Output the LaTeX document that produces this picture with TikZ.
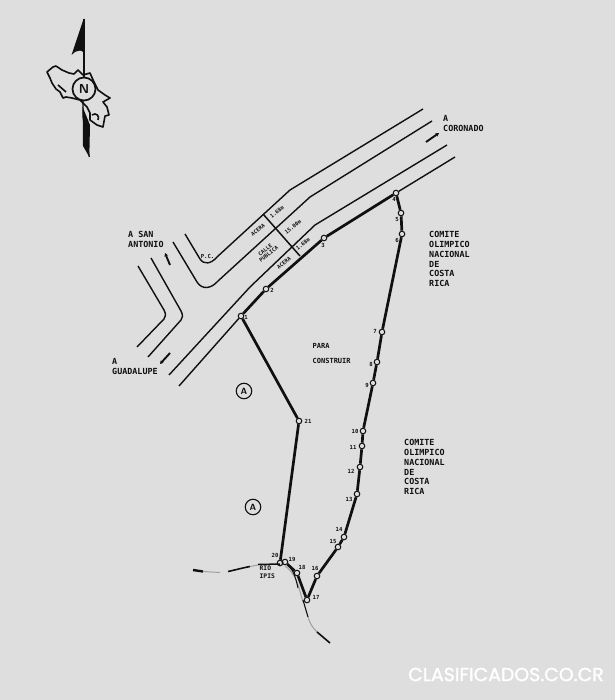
\documentclass[tikz,border=0pt]{standalone}
\usepackage{fontspec}
\setmonofont{DejaVu Sans Mono}
\newfontfamily\wmfont{Poppins}[FakeBold=1.4]
\definecolor{bgc}{HTML}{DEDEDE}
\definecolor{ink}{HTML}{101010}
\usetikzlibrary{arrows.meta}
\tikzset{
  road/.style={draw=ink,line width=1.4pt},
  limit/.style={draw=ink,line width=2.7pt},
  pt/.style={circle,draw=ink,line width=1pt,fill=bgc,inner sep=0pt,minimum size=5.6pt},
  txt/.style={font=\ttfamily\bfseries\fontsize{8.4}{9.7}\selectfont,text=ink,align=left,anchor=north west,inner sep=0pt},
  small/.style={font=\ttfamily\bfseries\fontsize{7}{8}\selectfont,text=ink,align=left,anchor=north west,inner sep=0pt},
  num/.style={font=\ttfamily\bfseries\fontsize{5.6}{6}\selectfont,text=ink,inner sep=0pt},
  sec/.style={font=\ttfamily\bfseries\fontsize{5.3}{5.6}\selectfont,text=ink,inner sep=0pt,align=center,rotate=38},
  dirarrow/.style={draw=ink,line width=1.9pt,-{Stealth[length=3.5pt,width=3.8pt]}},
  river/.style={draw=ink,line width=1.2pt},
  fade/.style={draw=ink!40,line width=1pt},
  boxa/.style={circle,draw=ink,line width=1.1pt,minimum size=15.5pt,inner sep=0pt,font=\sffamily\bfseries\fontsize{9}{9}\selectfont,text=ink},
}
\begin{document}
\begin{tikzpicture}[x=1pt,y=-1pt]
\path[use as bounding box,fill=bgc] (0,0) rectangle (615,700);

% north arrow
\fill[ink] (83.5,19) -- (71.5,55) -- (75,52) -- (78,51) .. controls (81,50) and (83,51) .. (84,54) -- (84.5,19) -- cycle;
\draw[ink,line width=1.2pt] (84,19) -- (84,78);
\draw[ink,line width=1.2pt] (83,100) -- (83,117) -- (89.3,157);
\fill[ink] (82.7,107) -- (90,125) -- (89.3,157) -- (83,146) -- cycle;
\draw[ink,line width=1.6pt,line join=round]
 (47,72) -- (53,67) -- (56,66) -- (62,70) -- (69,73) -- (74,74) -- (78,70) -- (83,75) -- (90,73) -- (94,82) -- (98,90) -- (105,95) -- (110,98) -- (103,102) -- (107,107) -- (109,115) -- (105,116) -- (103,127) -- (97,125) -- (90,120) -- (90,113) -- (87,107) -- (80,100) -- (72,98) -- (66,97) -- (63,98) -- (60,92) -- (56,89) -- (52,83) -- (50,78) -- cycle;
\draw[ink,line width=1.6pt] (58,85) -- (66,92) (92,115) .. controls (96,112) and (100,116) .. (98,120);
\node[circle,draw=ink,line width=1.7pt,fill=bgc,minimum size=23pt,inner sep=0pt,font=\sffamily\bfseries\fontsize{13}{13}\selectfont,text=ink] (north) at (84,89) {N};

% road outlines
\coordinate (a1) at (423,109);
\coordinate (a2) at (290,190);
\coordinate (a3) at (185,234);
\coordinate (b1) at (432,121);
\coordinate (b2) at (310,197);
\coordinate (b3) at (173,242);
\coordinate (c1) at (447,145);
\coordinate (c2) at (315,225);
\coordinate (c3) at (169,375);
\coordinate (d1) at (455,157);
\coordinate (d3) at (179,386);
\path[road] (a1) -- (a2) -- (217,257) .. controls (211,264) and (204,265) .. (200,259) -- (a3);
\path[road] (b1) -- (b2) -- (218,281) .. controls (211,289) and (202,290) .. (197,282) -- (b3);
\path[road] (c1) -- (c2) -- (250,287) -- (c3);
\coordinate (e1) at (138,266);
\coordinate (e2) at (137,347);
\coordinate (f1) at (151,258);
\coordinate (f2) at (148,357);
\path[road] (e1) -- (164,310) .. controls (166,314) and (166,317) .. (164,319) -- (e2);
\path[road] (f1) -- (181,311) .. controls (183,315) and (183,318) .. (181,320) -- (f2);

% boundary points
\node[pt] (p1) at (241,316) {};
\node[pt] (p2) at (266,289) {};
\node[pt] (p3) at (324,238) {};
\node[pt] (p4) at (396,193) {};
\node[pt] (p5) at (401,213) {};
\node[pt] (p6) at (402,234) {};
\node[pt] (p7) at (382,332) {};
\node[pt] (p8) at (377,362) {};
\node[pt] (p9) at (373,383) {};
\node[pt] (p10) at (363,431) {};
\node[pt] (p11) at (362,446) {};
\node[pt] (p12) at (360,467) {};
\node[pt] (p13) at (357,494) {};
\node[pt] (p14) at (344,537) {};
\node[pt] (p15) at (338,547) {};
\node[pt] (p16) at (317,576) {};
\node[pt] (p17) at (307,600) {};
\node[pt] (p18) at (297,573) {};
\node[pt] (p19) at (285,562) {};
\node[pt] (p20) at (280,563) {};
\node[pt] (p21) at (299,421) {};

% river
\coordinate (r0) at (193,570);
\coordinate (r1) at (280,564);
\coordinate (r2) at (330,643);
\draw[ink,line width=2.4pt] (r0) -- (203,571.5);
\draw[fade] (203,571.5) -- (220,572.5);
\draw[river,line width=1.6pt] (228,571.5) .. controls (235,570) and (242,568) .. (250,566.5);
\draw[fade] (250,566.5) -- (258,565);
\draw[river,line width=1.5pt] (258,564.5) -- (r1);
\draw[fade] (285,566) .. controls (292,571) and (296,578) .. (299,588) -- (303,602);
\draw[river,line width=1pt] (288,565) .. controls (292,569) and (295,574) .. (298,588);
\draw[river,line width=1.1pt] (303,600) -- (308,617);
\draw[fade] (308,617) .. controls (310,624) and (313,628) .. (317,632);
\draw[river,line width=1.6pt] (317,632) -- (r2);

% boundary
\draw[road] (d3) -- (p1);
\draw[limit] (p1) -- (p2);
\draw[limit] (p2) -- (p3);
\draw[limit] (p3) -- (p4);
\draw[road] (p4) -- (d1);
\draw[limit] (p4) -- (p5);
\draw[limit] (p5) -- (p6);
\draw[limit] (p6) -- (p7);
\draw[limit] (p7) -- (p8);
\draw[limit] (p8) -- (p9);
\draw[limit] (p9) -- (p10);
\draw[limit] (p10) -- (p11);
\draw[limit] (p11) -- (p12);
\draw[limit] (p12) -- (p13);
\draw[limit] (p13) -- (p14);
\draw[limit] (p14) -- (p15);
\draw[limit] (p15) -- (p16);
\draw[limit] (p16) -- (p17);
\draw[limit] (p17) -- (p18);
\draw[limit] (p18) -- (p19);
\draw[limit] (p19) -- (p20);
\draw[limit] (p20) -- (p21);
\draw[limit] (p21) -- (p1);

% road section line
\coordinate (s1) at (263,214);
\coordinate (s2) at (300,256);
\draw[ink,line width=1.5pt] (s1) -- (s2);
\node[sec] (ac1) at (258,230) {ACERA};
\node[sec] (wd1) at (277,212) {1.68m};
\node[sec] (cp) at (267,252) {CALLE\\PUBLICA};
\node[sec] (wd2) at (293,227) {15.00m};
\node[sec] (ac2) at (284,263) {ACERA};
\node[sec] (wd3) at (303,244) {1.68m};

% direction arrows
\coordinate (sa1) at (170,265);
\coordinate (sa2) at (165,253);
\draw[dirarrow] (sa1) -- (sa2);
\coordinate (gu1) at (170,353);
\coordinate (gu2) at (160,364);
\draw[dirarrow] (gu1) -- (gu2);
\coordinate (co1) at (426,142);
\coordinate (co2) at (439,133);
\draw[dirarrow] (co1) -- (co2);

% labels
\node[txt] (lsa) at (128,231) {A SAN\\ANTONIO};
\node[txt] (lgu) at (112,358) {A\\GUADALUPE};
\node[txt] (lco) at (443,115.5) {A\\CORONADO};
\node[txt] (lc1) at (429,231.5) {COMITE\\OLIMPICO\\NACIONAL\\DE\\COSTA\\RICA};
\node[txt] (lc2) at (404,439.5) {COMITE\\OLIMPICO\\NACIONAL\\DE\\COSTA\\RICA};
\node[small] (lpa) at (312.5,343) {PARA};
\node[small] (lco2) at (312.5,358.5) {CONSTRUIR};
\node[small,font=\ttfamily\bfseries\fontsize{6.3}{8}\selectfont] (lrio) at (259.5,566) {RIO\\IPIS};
\node[num] (lpc) at (207.5,256) {P.C.};

\node[boxa] (ca1) at (244,391) {A};
\node[boxa] (ca2) at (253,507) {A};

% point numbers
\node[num] (n1) at (246,317) {1};
\node[num] (n2) at (272,290) {2};
\node[num] (n3) at (323,245) {3};
\node[num] (n4) at (394,199) {4};
\node[num] (n5) at (397,219) {5};
\node[num] (n6) at (397,240) {6};
\node[num] (n7) at (375,331) {7};
\node[num] (n8) at (371,364) {8};
\node[num] (n9) at (367,385) {9};
\node[num] (n10) at (355,431) {10};
\node[num] (n11) at (353,447) {11};
\node[num] (n12) at (351,471) {12};
\node[num] (n13) at (349,499) {13};
\node[num] (n14) at (339,529) {14};
\node[num] (n15) at (333,541) {15};
\node[num] (n16) at (315,568) {16};
\node[num] (n17) at (316,597) {17};
\node[num] (n18) at (302,567) {18};
\node[num] (n19) at (292,559) {19};
\node[num] (n20) at (275,555) {20};
\node[num] (n21) at (308,421) {21};

% watermark
\node[font=\wmfont\fontsize{18.9}{19}\selectfont,text=white,inner sep=0pt] (wm) at (506,674.5) {CLASIFICADOS.CO.CR};
\end{tikzpicture}
\end{document}
